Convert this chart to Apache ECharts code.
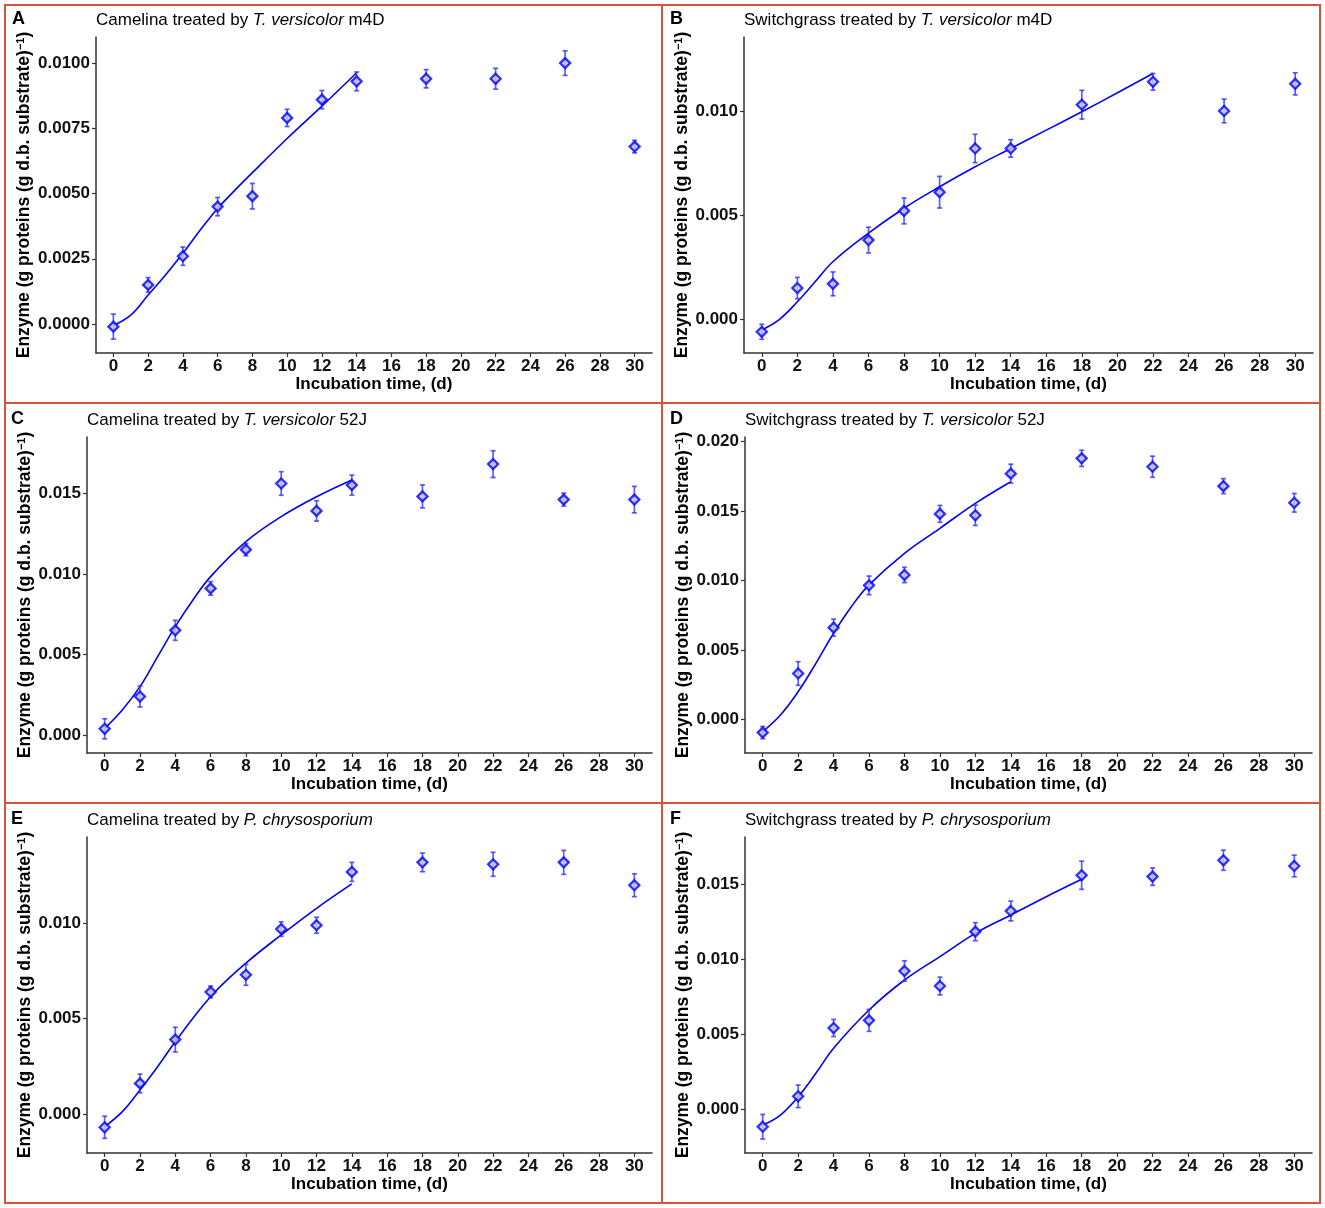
<!DOCTYPE html>
<html>
<head>
<meta charset="utf-8">
<script src="https://cdn.jsdelivr.net/npm/echarts@6/dist/echarts.min.js"></script>
<style>
  html, body { margin: 0; padding: 0; background: #fff; }
  #chart { width: 1325px; height: 1208px; }
</style>
</head>
<body>
<div id="chart"></div>
<script>
// incubation days (shared by all panels)
var days = [0, 2, 4, 6, 8, 10, 12, 14, 18, 22, 26, 30];
var xTicks = [0, 2, 4, 6, 8, 10, 12, 14, 16, 18, 20, 22, 24, 26, 28, 30];

// A - Camelina / T. versicolor m4D
var meanA = [-0.0001, 0.0015, 0.0026, 0.0045, 0.0049, 0.0079, 0.0086, 0.0093, 0.0094, 0.0094, 0.0100, 0.0068];
var sdA = [0.00048, 0.00028, 0.00035, 0.00035, 0.00049, 0.00033, 0.00035, 0.00036, 0.00035, 0.0004, 0.00047, 0.00024];
var fitDaysA = [0, 1, 2, 3, 4, 5, 6, 7, 8, 10, 12, 14];
var fitA = [-0.00005, 0.00034, 0.00111, 0.00188, 0.00271, 0.0036, 0.00443, 0.00513, 0.0058, 0.00711, 0.00835, 0.00963];

// B - Switchgrass / T. versicolor m4D
var meanB = [-0.0006, 0.0015, 0.0017, 0.0038, 0.0052, 0.0061, 0.0082, 0.0082, 0.0103, 0.0114, 0.0100, 0.0113];
var sdB = [0.00036, 0.00051, 0.00057, 0.00062, 0.00062, 0.00076, 0.00068, 0.00042, 0.00069, 0.0004, 0.00057, 0.00053];
var fitDaysB = [0, 1, 2, 3, 4, 6, 8, 10, 12, 14, 16, 18, 20, 22];
var fitB = [-0.00051, 0.0, 0.00084, 0.0018, 0.00276, 0.00413, 0.00533, 0.00636, 0.00732, 0.0082, 0.00908, 0.00996, 0.01087, 0.0118];

// C - Camelina / T. versicolor 52J
var meanC = [0.0004, 0.0024, 0.0065, 0.0091, 0.0115, 0.0156, 0.0139, 0.0155, 0.0148, 0.0168, 0.0146, 0.0146];
var sdC = [0.00062, 0.00065, 0.00062, 0.00042, 0.00038, 0.00073, 0.00063, 0.00062, 0.00071, 0.00083, 0.0004, 0.00082];
var fitDaysC = [0, 1, 2, 3, 4, 5, 6, 8, 10, 12, 14];
var fitC = [0.00043, 0.00157, 0.00301, 0.00487, 0.00673, 0.00838, 0.00983, 0.012, 0.01355, 0.01478, 0.01582];

// D - Switchgrass / T. versicolor 52J
var meanD = [-0.00096, 0.0033, 0.0066, 0.00965, 0.0104, 0.0148, 0.0147, 0.0177, 0.0188, 0.0182, 0.0168, 0.0156];
var sdD = [0.00044, 0.00085, 0.00062, 0.00067, 0.00055, 0.00061, 0.00073, 0.00068, 0.00058, 0.00076, 0.00054, 0.00067];
var fitDaysD = [0, 1, 2, 3, 4, 5, 6, 8, 10, 12, 14];
var fitD = [-0.00089, 0.00031, 0.00199, 0.00403, 0.0062, 0.00811, 0.00968, 0.01196, 0.01376, 0.01556, 0.01712];

// E - Camelina / P. chrysosporium
var meanE = [-0.0007, 0.0016, 0.0039, 0.0064, 0.0073, 0.0097, 0.0099, 0.0127, 0.0132, 0.0131, 0.0132, 0.0120];
var sdE = [0.00058, 0.00049, 0.00065, 0.00031, 0.00055, 0.00038, 0.00042, 0.0005, 0.00049, 0.00063, 0.00063, 0.0006];
var fitDaysE = [0, 1, 2, 3, 4, 6, 8, 10, 12, 14];
var fitE = [-0.00067, 0.00012, 0.00126, 0.00248, 0.00379, 0.00615, 0.00791, 0.00939, 0.01079, 0.01207];

// F - Switchgrass / P. chrysosporium
var meanF = [-0.00116, 0.00087, 0.00542, 0.00593, 0.00922, 0.00822, 0.01184, 0.01322, 0.0156, 0.01551, 0.0166, 0.01622];
var sdF = [0.00082, 0.00075, 0.00057, 0.00073, 0.00068, 0.00059, 0.0006, 0.00066, 0.00094, 0.00058, 0.00067, 0.00072];
var fitDaysF = [0, 1, 2, 3, 4, 6, 8, 10, 12, 14, 16, 18];
var fitF = [-0.00105, -0.00038, 0.00084, 0.0024, 0.00407, 0.00662, 0.00862, 0.01018, 0.01173, 0.01295, 0.01417, 0.01533];

var FONT = '"Liberation Sans", Arial, sans-serif';
var BLUE = '#0000ff';

var panels = [
  { letter: 'A', sub: 'Camelina', fungus: 'T. versicolor', strain: ' m4D', mean: meanA, sd: sdA, fx: fitDaysA, fy: fitA,
    yMin: -0.00111, yMax: 0.0110, yTicks: [0, 0.0025, 0.005, 0.0075, 0.01], dec: 4,
    grid: { left: 96, top: 37, width: 556, height: 316 }, nameGap: 62, lx: 12, ly: 10 },
  { letter: 'B', sub: 'Switchgrass', fungus: 'T. versicolor', strain: ' m4D', mean: meanB, sd: sdB, fx: fitDaysB, fy: fitB,
    yMin: -0.00162, yMax: 0.01355, yTicks: [0, 0.005, 0.01], dec: 3,
    grid: { left: 744, top: 37, width: 569, height: 316 }, nameGap: 51, lx: 670, ly: 10 },
  { letter: 'C', sub: 'Camelina', fungus: 'T. versicolor', strain: ' 52J', mean: meanC, sd: sdC, fx: fitDaysC, fy: fitC,
    yMin: -0.0011, yMax: 0.01848, yTicks: [0, 0.005, 0.01, 0.015], dec: 3,
    grid: { left: 87, top: 437, width: 565, height: 316 }, nameGap: 52, lx: 11, ly: 410 },
  { letter: 'D', sub: 'Switchgrass', fungus: 'T. versicolor', strain: ' 52J', mean: meanD, sd: sdD, fx: fitDaysD, fy: fitD,
    yMin: -0.00243, yMax: 0.02034, yTicks: [0, 0.005, 0.01, 0.015, 0.02], dec: 3,
    grid: { left: 745, top: 437, width: 567, height: 316 }, nameGap: 52, lx: 670, ly: 410 },
  { letter: 'E', sub: 'Camelina', fungus: 'P. chrysosporium', strain: '', mean: meanE, sd: sdE, fx: fitDaysE, fy: fitE,
    yMin: -0.00205, yMax: 0.01453, yTicks: [0, 0.005, 0.01], dec: 3,
    grid: { left: 87, top: 837, width: 565, height: 316 }, nameGap: 52, lx: 11, ly: 810 },
  { letter: 'F', sub: 'Switchgrass', fungus: 'P. chrysosporium', strain: '', mean: meanF, sd: sdF, fx: fitDaysF, fy: fitF,
    yMin: -0.00291, yMax: 0.01815, yTicks: [0, 0.005, 0.01, 0.015], dec: 3,
    grid: { left: 745, top: 837, width: 567, height: 316 }, nameGap: 52, lx: 670, ly: 810 }
];

var grids = [], xAxes = [], yAxes = [], series = [], titles = [];
var graphics = [
  { type: 'rect', shape: { x: 5, y: 5, width: 1315, height: 1198 }, style: { fill: 'none', stroke: '#d5533b', lineWidth: 2 } },
  { type: 'line', shape: { x1: 662, y1: 5, x2: 662, y2: 1203 }, style: { stroke: '#d5533b', lineWidth: 2 } },
  { type: 'line', shape: { x1: 5, y1: 403, x2: 1320, y2: 403 }, style: { stroke: '#d5533b', lineWidth: 2 } },
  { type: 'line', shape: { x1: 5, y1: 803, x2: 1320, y2: 803 }, style: { stroke: '#d5533b', lineWidth: 2 } }
];

function errorBar(params, api) {
  var x = api.value(0);
  var lo = api.coord([x, api.value(1)]);
  var hi = api.coord([x, api.value(2)]);
  var w = 2.5;
  var st = { stroke: 'rgba(40,40,255,0.75)', lineWidth: 1.7 };
  return {
    type: 'group',
    children: [
      { type: 'line', shape: { x1: lo[0], y1: lo[1], x2: hi[0], y2: hi[1] }, style: st },
      { type: 'line', shape: { x1: lo[0] - w, y1: lo[1], x2: lo[0] + w, y2: lo[1] }, style: st },
      { type: 'line', shape: { x1: hi[0] - w, y1: hi[1], x2: hi[0] + w, y2: hi[1] }, style: st }
    ]
  };
}

panels.forEach(function (p, i) {
  grids.push(p.grid);

  titles.push({
    left: p.grid.left, top: p.grid.top - 25, padding: 0,
    text: '{n|' + p.sub + ' treated by }{i|' + p.fungus + '}' + (p.strain ? '{n|' + p.strain + '}' : ''),
    textStyle: {
      rich: {
        n: { fontFamily: FONT, fontSize: 17, color: '#000', fontWeight: 'normal' },
        i: { fontFamily: FONT, fontSize: 17, color: '#000', fontWeight: 'normal', fontStyle: 'italic' }
      }
    }
  });

  graphics.push({
    type: 'text', left: p.lx, top: p.ly,
    style: { text: p.letter, font: 'bold 18px ' + FONT, fill: '#000' }
  });

  xAxes.push({
    gridIndex: i, type: 'value', min: -1, max: 31,
    name: 'Incubation time, (d)', nameLocation: 'middle', nameGap: 19,
    nameTextStyle: { fontFamily: FONT, fontSize: 17, fontWeight: 'bold', color: '#000' },
    axisLine: { onZero: false, lineStyle: { color: '#333', width: 1.5 } },
    axisTick: { customValues: xTicks, length: 4, lineStyle: { color: '#333', width: 1.2 } },
    axisLabel: { customValues: xTicks, margin: 5, fontFamily: FONT, fontSize: 17, fontWeight: 'bold', color: '#111' },
    splitLine: { show: false }
  });

  yAxes.push({
    gridIndex: i, type: 'value', min: p.yMin, max: p.yMax,
    name: 'Enzyme (g proteins (g d.b. substrate){sup|\u22121})', nameLocation: 'middle', nameGap: p.nameGap,
    nameTextStyle: {
      fontFamily: FONT, fontSize: 17.5, fontWeight: 'bold', color: '#000',
      rich: { sup: { fontFamily: FONT, fontSize: 11, fontWeight: 'bold', color: '#000', verticalAlign: 'top', padding: [0, 0, 8, 0] } }
    },
    axisLine: { show: true, onZero: false, lineStyle: { color: '#333', width: 1.5 } },
    axisTick: { show: true, customValues: p.yTicks, length: 4, lineStyle: { color: '#333', width: 1.2 } },
    axisLabel: {
      customValues: p.yTicks, margin: 6, fontFamily: FONT, fontSize: 17, fontWeight: 'bold', color: '#111',
      formatter: (function (d) { return function (v) { return Number(v).toFixed(d); }; })(p.dec)
    },
    splitLine: { show: false }
  });

  series.push({
    type: 'line', xAxisIndex: i, yAxisIndex: i, z: 2,
    data: p.fx.map(function (d, k) { return [d, p.fy[k]]; }),
    smooth: 0.4, showSymbol: false, symbol: 'none',
    lineStyle: { color: BLUE, width: 1.6 }
  });

  series.push({
    type: 'custom', xAxisIndex: i, yAxisIndex: i, z: 3,
    renderItem: errorBar,
    data: days.map(function (d, k) { return [d, p.mean[k] - p.sd[k], p.mean[k] + p.sd[k]]; })
  });

  series.push({
    type: 'scatter', xAxisIndex: i, yAxisIndex: i, z: 4,
    symbol: 'diamond', symbolSize: 10,
    itemStyle: { color: '#c8c8e4', borderColor: BLUE, borderWidth: 2.3 },
    data: days.map(function (d, k) { return [d, p.mean[k]]; })
  });
});

var chart = echarts.init(document.getElementById('chart'));
chart.setOption({
  animation: false,
  backgroundColor: '#fff',
  title: titles,
  grid: grids,
  xAxis: xAxes,
  yAxis: yAxes,
  series: series,
  graphic: graphics
});
</script>
</body>
</html>
